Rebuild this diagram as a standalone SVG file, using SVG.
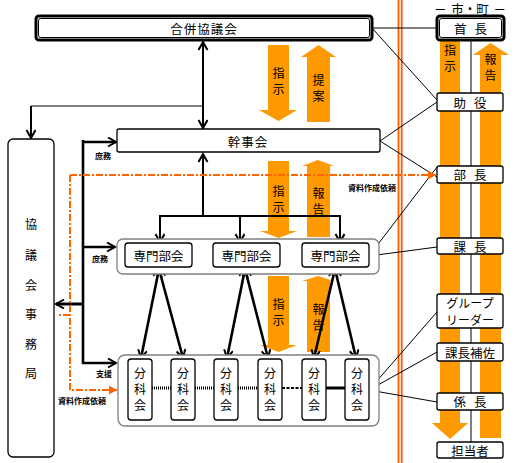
<svg xmlns="http://www.w3.org/2000/svg" width="518" height="463" viewBox="0 0 518 463">
<style>
text{font-family:"Noto Sans CJK JP","Noto Sans CJK SC",sans-serif;fill:#000}
.t{font-size:12.5px;text-anchor:middle;dominant-baseline:central}
.v{font-size:12px;text-anchor:middle;dominant-baseline:central}
.s{font-size:8px;font-weight:bold;text-anchor:middle;dominant-baseline:central}
.box{fill:#fff;stroke:#000;stroke-width:1.3}
.grp{fill:#fff;stroke:#808080;stroke-width:1.3}
.dbl-o{fill:#fff;stroke:#000;stroke-width:3}
.dbl-i{fill:none;stroke:#000;stroke-width:1}
.oa{fill:#FF9900}
.thin{stroke:#000;stroke-width:1;fill:none}
.blk{stroke:#000;stroke-width:2;fill:none}
.thk{stroke:#000;stroke-width:2.6;fill:none}
.dd{stroke:#FF6600;stroke-width:2;fill:none;stroke-dasharray:7 2 2 2}
.red{stroke:#FF5A00;stroke-width:1.8}
</style>
<defs>
<marker id="ah" markerUnits="userSpaceOnUse" markerWidth="12" markerHeight="12" refX="9" refY="5" orient="auto-start-reverse">
<path d="M1,0.5 L9,5 L1,9.5" fill="none" stroke="#000" stroke-width="2"/>
</marker>
<marker id="oh" markerUnits="userSpaceOnUse" markerWidth="10" markerHeight="10" refX="8" refY="4.5" orient="auto">
<path d="M0,0 L8,4.5 L0,9 Z" fill="#FF6600"/>
</marker>
</defs>

<!-- red double separator -->
<line class="red" x1="398.5" y1="0" x2="398.5" y2="463"/>
<line class="red" x1="401.7" y1="0" x2="401.7" y2="463"/>

<!-- orange block arrows -->
<g id="orange-arrows">
<polygon class="oa" points="268,45 289,45 289,110 297,110 278.5,121 259,110 268,110"/>
<polygon class="oa" points="318.5,45 336,57 330,57 330,122 307,122 307,57 301,57"/>
<polygon class="oa" points="268,161 289,161 289,231 297,231 278.5,238 260,231 268,231"/>
<polygon class="oa" points="318,160 334,166 330,166 330,237 307,237 307,166 302,166"/>
<polygon class="oa" points="268,276 289,276 289,345 297,345 278.5,352 260,345 268,345"/>
<polygon class="oa" points="318,276 334,281 330,281 330,352 307,352 307,281 302,281"/>
<polygon class="oa" points="440,41 460,41 460,423 468,423 450,439 432,423 440,423"/>
<polygon class="oa" points="490.5,43 509,55 501,55 501,438 480,438 480,55 473,55"/>
<text class="v" x="278.5" y="72">指</text><text class="v" x="278.5" y="88">示</text>
<text class="v" x="318.5" y="79">提</text><text class="v" x="318.5" y="95">案</text>
<text class="v" x="278.5" y="190">指</text><text class="v" x="278.5" y="206">示</text>
<text class="v" x="318.5" y="192">報</text><text class="v" x="318.5" y="208">告</text>
<text class="v" x="278.5" y="303">指</text><text class="v" x="278.5" y="319">示</text>
<text class="v" x="318.5" y="308">報</text><text class="v" x="318.5" y="324">告</text>
<text class="v" x="450" y="49">指</text><text class="v" x="450" y="65">示</text>
<text class="v" x="490.5" y="58">報</text><text class="v" x="490.5" y="74">告</text>
</g>

<!-- connectors -->
<g id="connectors">
<line class="thin" x1="471" y1="41" x2="471" y2="442"/>
<line class="thin" x1="372" y1="28" x2="436" y2="28"/>
<line class="thin" x1="372" y1="28" x2="437" y2="100"/>
<line class="thin" x1="380" y1="141" x2="437" y2="102"/>
<line class="thin" x1="380" y1="141" x2="437" y2="177"/>
<line class="thin" x1="369" y1="256" x2="437" y2="167"/>
<line class="thin" x1="369" y1="256" x2="437" y2="247"/>
<line class="thin" x1="369" y1="390" x2="437" y2="312"/>
<line class="thin" x1="369" y1="390" x2="437" y2="352"/>
<line class="thin" x1="369" y1="390" x2="437" y2="402"/>

<line class="blk" x1="203" y1="42" x2="203" y2="128" marker-start="url(#ah)" marker-end="url(#ah)"/>
<path class="thin" d="M203,106 H31"/>
<line class="blk" x1="31" y1="106" x2="31" y2="138" marker-end="url(#ah)"/>

<line class="blk" x1="203" y1="216" x2="203" y2="154" marker-end="url(#ah)"/>
<path class="blk" d="M159,216 H341"/>
<line class="blk" x1="160" y1="216" x2="160" y2="242" marker-end="url(#ah)"/>
<line class="blk" x1="240" y1="216" x2="240" y2="242" marker-end="url(#ah)"/>
<line class="blk" x1="340" y1="216" x2="340" y2="242" marker-end="url(#ah)"/>

<path class="thk" d="M83,140 V364"/>
<line class="thk" x1="82" y1="142" x2="116" y2="142" marker-end="url(#ah)"/>
<line class="thk" x1="82" y1="247" x2="115" y2="247" marker-end="url(#ah)"/>
<line class="thk" x1="82" y1="363" x2="116" y2="363" marker-end="url(#ah)"/>
<line stroke="#000" stroke-width="3" x1="84" y1="304" x2="56" y2="304" marker-end="url(#ah)"/>

<line class="thk" x1="159" y1="269" x2="141" y2="358" marker-start="url(#ah)" marker-end="url(#ah)"/>
<line class="thk" x1="159" y1="269" x2="183" y2="358" marker-start="url(#ah)" marker-end="url(#ah)"/>
<line class="thk" x1="245" y1="269" x2="227" y2="358" marker-start="url(#ah)" marker-end="url(#ah)"/>
<line class="thk" x1="245" y1="269" x2="268" y2="358" marker-start="url(#ah)" marker-end="url(#ah)"/>
<line class="thk" x1="335" y1="269" x2="314" y2="358" marker-start="url(#ah)" marker-end="url(#ah)"/>
<line class="thk" x1="335" y1="269" x2="356" y2="358" marker-start="url(#ah)" marker-end="url(#ah)"/>

<path class="dd" d="M70,175 H436" marker-end="url(#oh)"/>
<path class="dd" d="M70,175 V390 H117" marker-end="url(#oh)"/>
<path class="dd" d="M70,315 H57"/>

<text class="s" x="103" y="155">庶務</text>
<text class="s" x="100" y="258">庶務</text>
<text class="s" x="104" y="373">支援</text>
<text class="s" x="372" y="187">資料作成依頼</text>
<text class="s" x="82" y="400">資料作成依頼</text>
</g>

<!-- left and centre nodes -->
<g id="gappei">
<rect class="dbl-o" x="36" y="16" width="336" height="24" rx="3"/>
<rect class="dbl-i" x="38.5" y="18.5" width="331" height="19" rx="2"/>
<text class="t" x="204" y="28" letter-spacing="1">合併協議会</text>
</g>
<g id="kanjikai">
<rect class="box" x="117" y="129" width="263" height="23" rx="2"/>
<text class="t" x="248" y="141" letter-spacing="1">幹事会</text>
</g>
<g id="jimukyoku">
<rect class="box" x="8" y="139" width="46" height="318" rx="5"/>
<text class="v" x="31" y="223">協</text>
<text class="v" x="31" y="254">議</text>
<text class="v" x="31" y="284">会</text>
<text class="v" x="31" y="313">事</text>
<text class="v" x="31" y="343">務</text>
<text class="v" x="31" y="372">局</text>
</g>
<g id="senmon">
<rect class="grp" x="117" y="239" width="262" height="35" rx="6"/>
<rect class="box" x="125" y="243" width="67" height="24" rx="3"/>
<rect class="box" x="213" y="243" width="67" height="24" rx="3"/>
<rect class="box" x="302" y="243" width="67" height="24" rx="3"/>
<text class="t" x="158.5" y="255">専門部会</text>
<text class="t" x="246.5" y="255">専門部会</text>
<text class="t" x="335.5" y="255">専門部会</text>
</g>
<g id="bunka">
<rect class="grp" x="118" y="355" width="261" height="71" rx="7"/>
<line x1="152" y1="388" x2="171" y2="388" stroke="#000" stroke-width="3" stroke-dasharray="1 1"/>
<line x1="195" y1="388" x2="214" y2="388" stroke="#000" stroke-width="3" stroke-dasharray="1 1"/>
<line x1="238" y1="388" x2="258" y2="388" stroke="#000" stroke-width="3" stroke-dasharray="1 1"/>
<line x1="282" y1="388" x2="302" y2="388" stroke="#000" stroke-width="2" stroke-dasharray="3 1.5"/>
<line x1="326" y1="388" x2="345" y2="388" stroke="#000" stroke-width="3"/>
<g>
<rect class="box" x="128" y="359" width="24" height="61" rx="3"/>
<rect class="box" x="171" y="359" width="24" height="61" rx="3"/>
<rect class="box" x="214" y="359" width="24" height="61" rx="3"/>
<rect class="box" x="258" y="359" width="24" height="61" rx="3"/>
<rect class="box" x="302" y="359" width="24" height="61" rx="3"/>
<rect class="box" x="345" y="359" width="24" height="61" rx="3"/>
</g>
<g>
<text class="v" x="140" y="372">分</text><text class="v" x="140" y="388">科</text><text class="v" x="140" y="404">会</text>
<text class="v" x="183" y="372">分</text><text class="v" x="183" y="388">科</text><text class="v" x="183" y="404">会</text>
<text class="v" x="226" y="372">分</text><text class="v" x="226" y="388">科</text><text class="v" x="226" y="404">会</text>
<text class="v" x="270" y="372">分</text><text class="v" x="270" y="388">科</text><text class="v" x="270" y="404">会</text>
<text class="v" x="314" y="372">分</text><text class="v" x="314" y="388">科</text><text class="v" x="314" y="404">会</text>
<text class="v" x="357" y="372">分</text><text class="v" x="357" y="388">科</text><text class="v" x="357" y="404">会</text>
</g>
</g>

<!-- right column -->
<text class="t" x="470" y="8" word-spacing="2">－ 市・町 －</text>
<g id="shucho">
<rect class="dbl-o" x="437" y="16" width="67" height="24" rx="3"/>
<rect class="dbl-i" x="439.5" y="18.5" width="62" height="19" rx="2"/>
<text class="t" x="470.5" y="28" word-spacing="5">首 長</text>
</g>
<g id="joyaku"><rect class="box" x="437" y="93" width="66" height="18" rx="2"/><text class="t" x="470" y="102" word-spacing="5">助 役</text></g>
<g id="bucho"><rect class="box" x="437" y="166" width="66" height="17" rx="2"/><text class="t" x="470" y="174.5" word-spacing="5">部 長</text></g>
<g id="kacho"><rect class="box" x="437" y="238" width="66" height="16" rx="2"/><text class="t" x="470" y="246" word-spacing="5">課 長</text></g>
<g id="group-leader"><rect class="box" x="437" y="294" width="66" height="34" rx="2"/><text class="v" x="470" y="302.5">グループ</text><text class="v" x="470" y="319">リーダー</text></g>
<g id="kacho-hosa"><rect class="box" x="437" y="343" width="66" height="18" rx="2"/><text class="t" x="470" y="352">課長補佐</text></g>
<g id="kakaricho"><rect class="box" x="437" y="393" width="66" height="17" rx="2"/><text class="t" x="470" y="401.5" word-spacing="5">係 長</text></g>
<g id="tantosha"><rect class="box" x="437" y="442" width="66" height="16" rx="2"/><text class="t" x="470" y="450">担当者</text></g>
</svg>
